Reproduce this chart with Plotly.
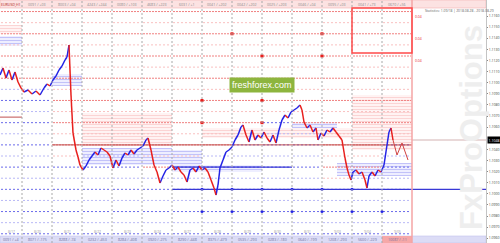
import plotly.graph_objects as go

# ---------------- data ----------------
sessions = [0, 22, 52, 82, 112, 142, 172, 202, 232, 262, 292, 322, 352, 382, 412]
future_end = 486

bars = [0, 3, 6, 9, 12, 15, 18, 21, 24, 28,
        32, 36, 40, 44, 47, 50, 53, 56, 59, 62,
        65, 67, 69, 71, 73, 76, 78, 80, 83, 86,
        89, 92, 95, 98, 101, 104, 107, 110, 113, 116,
        119, 122, 125, 128, 131, 134, 137, 140, 143, 146,
        148, 151, 154, 157, 160, 163, 166, 169, 172, 175,
        178, 181, 184, 187, 190, 193, 196, 199, 202, 205,
        208, 211, 214, 216, 218, 220, 223, 226, 229, 232,
        235, 238, 241, 243, 246, 249, 252, 255, 258, 261,
        264, 267, 270, 273, 276, 279, 282, 285, 288, 291,
        294, 297, 300, 302, 304, 307, 310, 313, 316, 318,
        321, 324, 327, 330, 333, 336, 339, 342, 345, 347,
        349, 351, 353, 356, 359, 362, 365, 367, 369, 372,
        375, 378, 381, 384, 387, 389, 391, 393]

prices = [1.11069, 1.11132, 1.11042, 1.11114, 1.11024, 1.11096, 1.11006, 1.10952, 1.10916, 1.10934,
          1.10898, 1.10925, 1.10889, 1.10952, 1.10988, 1.10970, 1.11024, 1.11060, 1.11114, 1.11150,
          1.11204, 1.11231, 1.11339, 1.10889, 1.10547, 1.10394, 1.10331, 1.10259, 1.10214, 1.10250,
          1.10304, 1.10340, 1.10376, 1.10349, 1.10412, 1.10394, 1.10376, 1.10340, 1.10232, 1.10304,
          1.10250, 1.10322, 1.10367, 1.10349, 1.10394, 1.10358, 1.10394, 1.10412, 1.10430, 1.10484,
          1.10502, 1.10394, 1.10259, 1.10196, 1.10097, 1.10160, 1.10214, 1.10232, 1.10259, 1.10214,
          1.10241, 1.10196, 1.10169, 1.10106, 1.10214, 1.10232, 1.10196, 1.10250, 1.10214, 1.10232,
          1.10196, 1.10124, 1.10052, 1.09989, 1.10079, 1.10232, 1.10304, 1.10376, 1.10394, 1.10421,
          1.10484, 1.10529, 1.10601, 1.10619, 1.10529, 1.10466, 1.10574, 1.10484, 1.10529, 1.10502,
          1.10556, 1.10502, 1.10466, 1.10529, 1.10457, 1.10574, 1.10664, 1.10709, 1.10682, 1.10736,
          1.10754, 1.10772, 1.10799, 1.10754, 1.10646, 1.10592, 1.10619, 1.10556, 1.10592, 1.10484,
          1.10547, 1.10520, 1.10574, 1.10556, 1.10592, 1.10556, 1.10520, 1.10484, 1.10322, 1.10232,
          1.10169, 1.10124, 1.10196, 1.10214, 1.10178, 1.10196, 1.10124, 1.10052, 1.10160, 1.10196,
          1.10160, 1.10214, 1.10196, 1.10259, 1.10439, 1.10556, 1.10592, 1.10484]

proj_bars = [393, 397, 402, 408]
proj_prices = [1.10484, 1.10349, 1.10457, 1.10304]

strikes = [1.0964, 1.0974, 1.0984, 1.0994, 1.1004, 1.1014, 1.1024, 1.1034, 1.1044, 1.1054,
           1.1064, 1.1074, 1.1084, 1.1094, 1.1104, 1.1114, 1.1124, 1.1134, 1.1144, 1.1154, 1.1164]

tick_prices = [1.0960, 1.0970, 1.0980, 1.0990, 1.1000, 1.1010, 1.1020, 1.1030, 1.1040, 1.1050,
               1.1060, 1.1070, 1.1080, 1.1090, 1.1100, 1.1110, 1.1120, 1.1130, 1.1140, 1.1150, 1.1160]

# option-volume bands: start, end, top, bottom, kind
band_start = [0, 0, 52, 82, 172, 172, 82, 202, 292, 337, 352]
band_end = [22, 22, 82, 172, 202, 262, 172, 352, 337, 412, 412]
band_top = [1.11420, 1.11519, 1.11078, 1.10412, 1.10394, 1.10259, 1.10727, 1.10592, 1.10646, 1.10277, 1.10889]
band_bottom = [1.11330, 1.11438, 1.10970, 1.10259, 1.10232, 1.10196, 1.10430, 1.10502, 1.10592, 1.10160, 1.10394]
band_kind = ["put", "call", "put", "put", "put", "put", "call", "call", "put", "put", "call"]

# solid levels: start, end, price, kind
lvl_start = [0, 52, 172, 172]
lvl_end = [22, 412, 292, 486]
lvl_price = [1.1069, 1.1044, 1.1024, 1.1004]
lvl_kind = ["call", "call", "put", "put"]

call_mark_bars = [232, 262, 322, 322, 202, 262, 202, 262]
call_mark_prices = [1.1144, 1.1124, 1.1144, 1.1124, 1.1084, 1.1084, 1.1064, 1.1064]
put_mark_bars = [202, 232, 262, 292, 322, 352, 382, 202, 232, 262, 292, 322, 352]
put_mark_prices = [1.0984, 1.0984, 1.0984, 1.0984, 1.0984, 1.0984, 1.0984,
                   1.1004, 1.1004, 1.1004, 1.1004, 1.1004, 1.1004]

header_labels = ["EURUSD,H1", "0091 / +03", "8003 / +04", "4243 / +244", "0080 / +103", "4683 / +223",
                 "6031 / +1", "0041 / +202", "0042 / +202", "0025 / +203", "0046 / +04", "0095 / +03",
                 "0041 / +73", "0670 / +56"]
footer_labels = ["0091 / +4", "8071 / -175", "8288 / -74", "0232 / -453", "8284 / -408", "0920 / -275",
                 "8290 / -448", "8375 / -479", "0535 / -293", "0283 / -180", "0640 / -199", "1208 / -293",
                 "5600 / -229", "10087 / -11"]
date_labels = ["8/17", "8/20", "8/21", "8/22", "8/23", "8/24", "8/27", "8/28", "8/29", "8/30", "8/31",
               "9/03", "9/04", "9/05"]

y_top, y_bottom = 1.11744, 1.09557
header_bottom, footer_top = 1.11672, 1.09620
current_price = prices[-1]

RED, BLUE = "#e8201e", "#2424e6"

# ticks: the current price tag takes the place of the nearest regular tick
shown_ticks = [p for p in tick_prices if abs(p - current_price) > 0.0005]
tick_labels = ["%.4f" % p for p in shown_ticks]

fig = go.Figure()

# bands
for s, e, t, b, k in zip(band_start, band_end, band_top, band_bottom, band_kind):
    if k == "put":
        fg, bg = "#8c8cf2", "rgba(232,232,255,0.75)"
    else:
        fg, bg = "#f6b0b0", "rgba(255,238,238,0.75)"
    fig.add_trace(go.Bar(x=[(s + e) / 2], width=[e - s], base=[b], y=[t - b],
                         marker=dict(color=bg, line_width=0,
                                     pattern=dict(shape="-", fgcolor=fg, bgcolor=bg, size=3, solidity=0.3)),
                         hoverinfo="skip"))

# session closes -> strike lines coloured relative to price
closes = []
for i in range(len(sessions) - 1):
    e = sessions[i + 1]
    ps = [p for b, p in zip(bars, prices) if b < e]
    closes.append(ps[-1])

groups = {("call", 1): ([], []), ("call", 0): ([], []), ("put", 1): ([], []), ("put", 0): ([], [])}
for i in range(len(sessions) - 1):
    s, e = sessions[i], sessions[i + 1]
    for k in strikes:
        major = 1 if round((k - strikes[0]) / 0.001) % 2 == 0 else 0
        kind = "call" if k > closes[i] else "put"
        gx, gy = groups[(kind, major)]
        gx += [s + 1, e - 1, None]
        gy += [k, k, None]
styles = {("call", 1): ("#f08080", "2px,1px", 1),
          ("call", 0): ("#f9c0c0", "2px,2px", 1),
          ("put", 1): ("#6a6aea", "2px,2px", 1),
          ("put", 0): ("#b8b8f6", "2px,2px", 1)}
for key, (gx, gy) in groups.items():
    c, d, w = styles[key]
    fig.add_trace(go.Scatter(x=gx, y=gy, mode="lines", line=dict(color=c, dash=d, width=w),
                             hoverinfo="skip"))

# solid levels
for s, e, p, k in zip(lvl_start, lvl_end, lvl_price, lvl_kind):
    fig.add_trace(go.Scatter(x=[s, e], y=[p, p], mode="lines",
                             line=dict(color="#c05050" if k == "call" else "#3838d6",
                                       width=1 if k == "call" else 1.4), hoverinfo="skip"))

# current price line in future area
fig.add_trace(go.Scatter(x=[sessions[-1], future_end], y=[current_price, current_price], mode="lines",
                         line=dict(color="#c8a0a0", width=0.8), hoverinfo="skip"))

# price path coloured by direction
ux, uy, dx, dy = [], [], [], []
for i in range(len(bars) - 1):
    if prices[i + 1] >= prices[i]:
        ux += [bars[i], bars[i + 1], None]
        uy += [prices[i], prices[i + 1], None]
    else:
        dx += [bars[i], bars[i + 1], None]
        dy += [prices[i], prices[i + 1], None]
fig.add_trace(go.Scatter(x=ux, y=uy, mode="lines", line=dict(color=BLUE, width=1.5), hoverinfo="skip"))
fig.add_trace(go.Scatter(x=dx, y=dy, mode="lines", line=dict(color=RED, width=1.5), hoverinfo="skip"))
fig.add_trace(go.Scatter(x=proj_bars, y=proj_prices, mode="lines", line=dict(color="#d04040", width=1),
                         hoverinfo="skip"))

# markers
fig.add_trace(go.Scatter(x=call_mark_bars, y=call_mark_prices, mode="markers",
                         marker=dict(symbol="square", size=3, color=RED), hoverinfo="skip"))
fig.add_trace(go.Scatter(x=put_mark_bars, y=put_mark_prices, mode="markers",
                         marker=dict(symbol="circle", size=3, color=BLUE), hoverinfo="skip"))

shapes = []
# header / footer bands
shapes.append(dict(type="rect", xref="x", yref="y", x0=0, x1=future_end, y0=header_bottom, y1=y_top,
                   fillcolor="#fce2e2", line=dict(color="#f2b4b4", width=0.6), layer="above"))
shapes.append(dict(type="rect", xref="x", yref="y", x0=0, x1=future_end, y0=y_bottom, y1=footer_top,
                   fillcolor="#dcdcf6", line=dict(color="#c4c4ee", width=0.6), layer="above"))
shapes.append(dict(type="rect", xref="x", yref="y", x0=sessions[-2], x1=sessions[-1], y0=y_bottom,
                   y1=footer_top, fillcolor="#f6a8a8", line=dict(width=0), layer="above"))
# session separators
for b in sessions[1:-1]:
    shapes.append(dict(type="line", xref="x", yref="paper", x0=b, x1=b, y0=0, y1=1,
                       line=dict(color="#a8a8a8", width=1, dash="2px,2px"), layer="above"))
shapes.append(dict(type="line", xref="x", yref="paper", x0=sessions[-1], x1=sessions[-1], y0=0, y1=1,
                   line=dict(color="#f4a4a4", width=1.5), layer="above"))
# expiry box
shapes.append(dict(type="rect", xref="x", yref="y", x0=sessions[-3], x1=sessions[-1], y0=1.11267,
                   y1=header_bottom, line=dict(color="#ff4a4a", width=1.5), layer="above"))

annotations = []
# watermark
annotations.append(dict(x=471, y=1.10592, xref="x", yref="y", text="<b>FxProOptions</b>", textangle=-90,
                        showarrow=False, font=dict(size=31, color="#eeeeee", family="Liberation Sans")))
# header / footer / date labels
for i, (h, f, d) in enumerate(zip(header_labels, footer_labels, date_labels)):
    cx = (sessions[i] + sessions[i + 1]) / 2
    annotations.append(dict(x=cx, y=(y_top + header_bottom) / 2, xref="x", yref="y", text=h, showarrow=False,
                            font=dict(size=3.6, color="#b02020" if i == 0 else "#8a8a8a")))
    annotations.append(dict(x=cx, y=(y_bottom + footer_top) / 2, xref="x", yref="y", text=f, showarrow=False,
                            font=dict(size=3.6, color="#7070a0")))
    annotations.append(dict(x=cx, y=1.0966, xref="x", yref="y", text=d, showarrow=False,
                            font=dict(size=3.4, color="#a0a0a0")))
annotations.append(dict(x=423, y=1.11654, xref="x", yref="y", xanchor="left",
                        text="Statistics: 1.09/18 | 2018.08.28 - 2018.08.29", showarrow=False,
                        font=dict(size=3.4, color="#666666")))
for p in [1.1164, 1.1144, 1.1124]:
    annotations.append(dict(x=413, y=p, xref="x", yref="y", xanchor="left", yanchor="top", text="0.04",
                            showarrow=False, font=dict(size=3.4, color=RED)))
# freshforex badge
annotations.append(dict(x=262, y=1.10983, xref="x", yref="y", text="freshforex.com", showarrow=False,
                        bgcolor="#8db53e", borderpad=2,
                        font=dict(size=9, color="white", family="Liberation Sans")))
# current price tag
annotations.append(dict(x=1, y=current_price, xref="paper", yref="y", xanchor="left", xshift=0.5,
                        text="%.4f" % current_price, showarrow=False, bgcolor="#000000", borderpad=0.5,
                        font=dict(size=3.5, color="white")))

fig.update_layout(
    width=500, height=243, margin=dict(l=0, r=14, t=0, b=0),
    plot_bgcolor="white", paper_bgcolor="white", showlegend=False, barmode="overlay", bargap=0,
    xaxis=dict(range=[0, future_end], visible=False, fixedrange=True),
    yaxis=dict(range=[y_bottom, y_top], side="right", tickvals=shown_ticks, ticktext=tick_labels,
               tickfont=dict(size=3.5, color="#444444"), showgrid=False, zeroline=False,
               ticks="outside", ticklen=1, tickcolor="#888888", showline=True, linecolor="#c4c4c4",
               automargin=False, fixedrange=True),
    shapes=shapes, annotations=annotations,
)

fig.write_html("out.html")
